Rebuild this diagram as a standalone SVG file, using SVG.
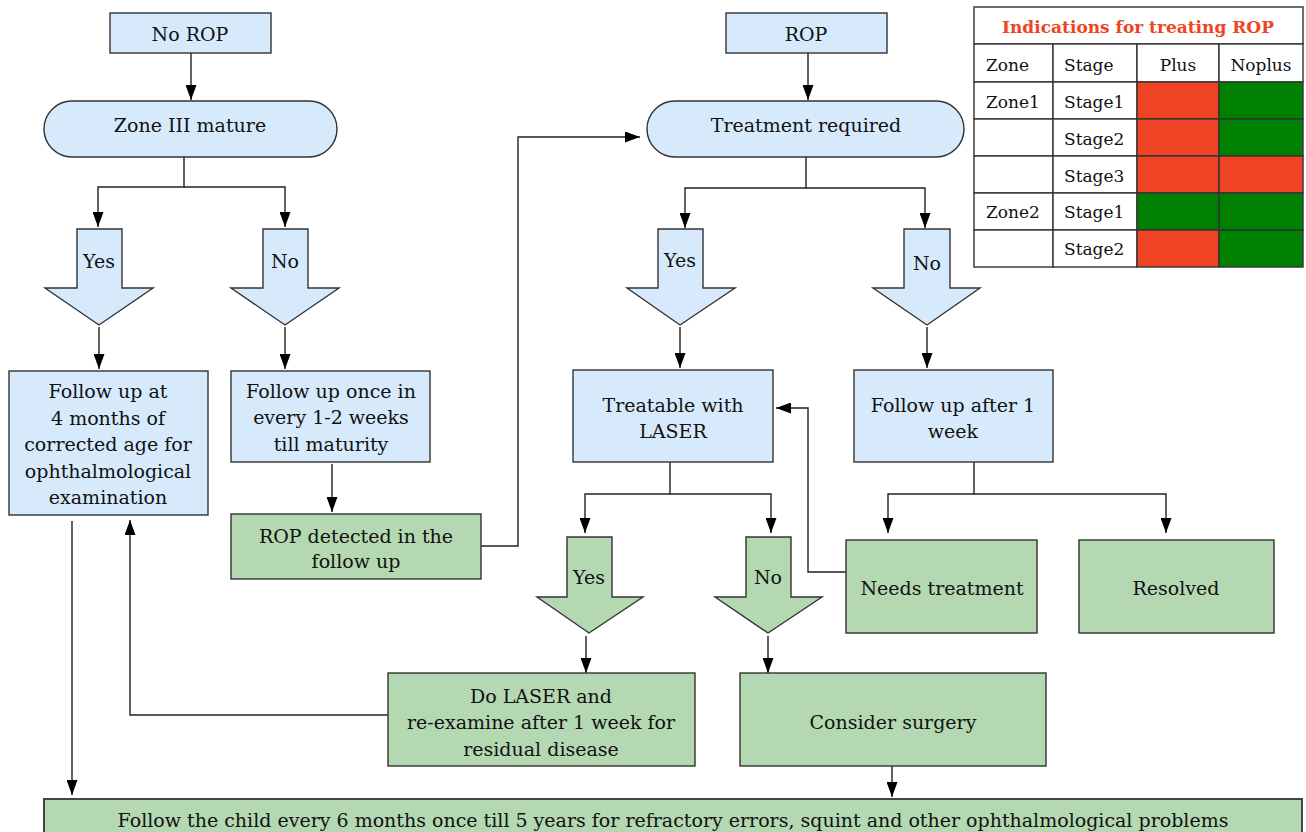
<svg xmlns="http://www.w3.org/2000/svg" width="1306" height="832" viewBox="0 0 1306 832">
<style>
text{font-family:"DejaVu Serif","Liberation Serif",serif;font-size:19px;fill:#111;text-anchor:middle}
.b{fill:#d6eafc;stroke:#333;stroke-width:1.4}
.g{fill:#b3d8b2;stroke:#333;stroke-width:1.4}
.c{fill:none;stroke:#222;stroke-width:1.4}
.t{font-size:17px}
.tl{font-size:17px;text-anchor:start}
.cell{fill:#fff;stroke:#333;stroke-width:1.4}
.red{fill:#ee4423;stroke:#333;stroke-width:1.4}
.grn{fill:#008000;stroke:#333;stroke-width:1.4}
</style>
<defs>
<marker id="ah" markerUnits="userSpaceOnUse" markerWidth="15" markerHeight="11" refX="15" refY="5.5" orient="auto">
<path d="M0,0 L15,5.5 L0,11 z" fill="#000"/>
</marker>
</defs>
<g id="connectors" class="c" marker-end="url(#ah)">
<path d="M191,53 V100"/>
<path d="M184,157 V187 H98 V227"/>
<path d="M184,187 H285 V227"/>
<path d="M99,327 V369"/>
<path d="M285,327 V369"/>
<path d="M332,464 V512"/>
<path d="M481,546 H518 V137 H640"/>
<path d="M808,53 V100"/>
<path d="M806,157 V188 H685 V228"/>
<path d="M806,188 H925 V228"/>
<path d="M680,327 V368"/>
<path d="M927,327 V368"/>
<path d="M670,462 V494 H585 V533"/>
<path d="M670,494 H771 V533"/>
<path d="M586,636 V673"/>
<path d="M768,636 V673"/>
<path d="M974,462 V494 H888 V533"/>
<path d="M974,494 H1166 V533"/>
<path d="M846,572 H808 V408 H776"/>
<path d="M388,715 H130 V520"/>
<path d="M72,521 V795"/>
<path d="M892,766 V797"/>
</g>
<g id="no-rop"><rect class="b" x="110" y="13" width="161" height="40"/><text x="190" y="41">No ROP</text></g>
<g id="zone3"><rect class="b" x="44" y="101" width="293" height="56" rx="28"/><text x="190" y="132">Zone III mature</text></g>
<g id="yes1"><polygon class="b" points="77,229 122,229 122,288 153,288 99,325 45,288 77,288"/><text x="99" y="268">Yes</text></g>
<g id="no1"><polygon class="b" points="263,229 308,229 308,288 339,288 285,325 231,288 263,288"/><text x="285" y="268">No</text></g>
<g id="follow4m"><rect class="b" x="9" y="371" width="199" height="144"/>
<text x="108" y="398">Follow up at</text><text x="108" y="425">4 months of</text><text x="108" y="451">corrected age for</text><text x="108" y="478">ophthalmological</text><text x="108" y="504">examination</text></g>
<g id="follow12"><rect class="b" x="231" y="371" width="199" height="91"/>
<text x="331" y="398">Follow up once in</text><text x="331" y="424">every 1-2 weeks</text><text x="331" y="451">till maturity</text></g>
<g id="rop-detected"><rect class="g" x="231" y="514" width="250" height="65"/>
<text x="356" y="543">ROP detected in the</text><text x="356" y="568">follow up</text></g>
<g id="rop"><rect class="b" x="726" y="13" width="161" height="40"/><text x="806" y="41">ROP</text></g>
<g id="treat-req"><rect class="b" x="647" y="101" width="317" height="56" rx="28"/><text x="806" y="132">Treatment required</text></g>
<g id="yes2"><polygon class="b" points="658,229 703,229 703,288 735,288 680,325 627,288 658,288"/><text x="680" y="267">Yes</text></g>
<g id="no2"><polygon class="b" points="904,229 950,229 950,288 980,288 927,325 873,288 904,288"/><text x="927" y="270">No</text></g>
<g id="treatable"><rect class="b" x="573" y="370" width="200" height="92"/>
<text x="673" y="412">Treatable with</text><text x="673" y="438">LASER</text></g>
<g id="follow1w"><rect class="b" x="854" y="370" width="199" height="92"/>
<text x="953" y="412">Follow up after 1</text><text x="953" y="438">week</text></g>
<g id="yes3"><polygon class="g" points="567,537 612,537 612,597 643,597 589,633 537,597 567,597"/><text x="589" y="584">Yes</text></g>
<g id="no3"><polygon class="g" points="746,537 791,537 791,597 822,597 768,633 715,597 746,597"/><text x="768" y="584">No</text></g>
<g id="needs"><rect class="g" x="846" y="540" width="191" height="93"/><text x="942" y="595">Needs treatment</text></g>
<g id="resolved"><rect class="g" x="1079" y="540" width="195" height="93"/><text x="1176" y="595">Resolved</text></g>
<g id="laser"><rect class="g" x="388" y="673" width="307" height="93"/>
<text x="541" y="703">Do LASER and</text><text x="541" y="729">re-examine after 1 week for</text><text x="541" y="756">residual disease</text></g>
<g id="surgery"><rect class="g" x="740" y="673" width="306" height="93"/><text x="893" y="729">Consider surgery</text></g>
<g id="final"><rect class="g" x="44" y="799" width="1258" height="45" style="stroke:#444;stroke-width:2"/>
<text x="673" y="827">Follow the child every 6 months once till 5 years for refractory errors, squint and other ophthalmological problems</text></g>
<g id="table">
<rect class="cell" x="974" y="7" width="329" height="37"/>
<text x="1138" y="33" style="font-size:17px;font-weight:bold;fill:#ee4423">Indications for treating ROP</text>
<rect class="cell" x="974" y="44" width="79" height="38"/><rect class="cell" x="1053" y="44" width="84" height="38"/><rect class="cell" x="1137" y="44" width="82" height="38"/><rect class="cell" x="1219" y="44" width="84" height="38"/>
<text class="tl" x="986" y="71">Zone</text><text class="tl" x="1064" y="71">Stage</text><text class="t" x="1178" y="71">Plus</text><text class="t" x="1261" y="71">Noplus</text>
<rect class="cell" x="974" y="82" width="79" height="37"/><rect class="cell" x="1053" y="82" width="84" height="37"/><rect class="red" x="1137" y="82" width="82" height="37"/><rect class="grn" x="1219" y="82" width="84" height="37"/>
<text class="tl" x="986" y="108">Zone1</text><text class="tl" x="1064" y="108">Stage1</text>
<rect class="cell" x="974" y="119" width="79" height="37"/><rect class="cell" x="1053" y="119" width="84" height="37"/><rect class="red" x="1137" y="119" width="82" height="37"/><rect class="grn" x="1219" y="119" width="84" height="37"/>
<text class="tl" x="1064" y="145">Stage2</text>
<rect class="cell" x="974" y="156" width="79" height="37"/><rect class="cell" x="1053" y="156" width="84" height="37"/><rect class="red" x="1137" y="156" width="82" height="37"/><rect class="red" x="1219" y="156" width="84" height="37"/>
<text class="tl" x="1064" y="182">Stage3</text>
<rect class="cell" x="974" y="193" width="79" height="37"/><rect class="cell" x="1053" y="193" width="84" height="37"/><rect class="grn" x="1137" y="193" width="82" height="37"/><rect class="grn" x="1219" y="193" width="84" height="37"/>
<text class="tl" x="986" y="218">Zone2</text><text class="tl" x="1064" y="218">Stage1</text>
<rect class="cell" x="974" y="230" width="79" height="37"/><rect class="cell" x="1053" y="230" width="84" height="37"/><rect class="red" x="1137" y="230" width="82" height="37"/><rect class="grn" x="1219" y="230" width="84" height="37"/>
<text class="tl" x="1064" y="255">Stage2</text>
</g>
</svg>
